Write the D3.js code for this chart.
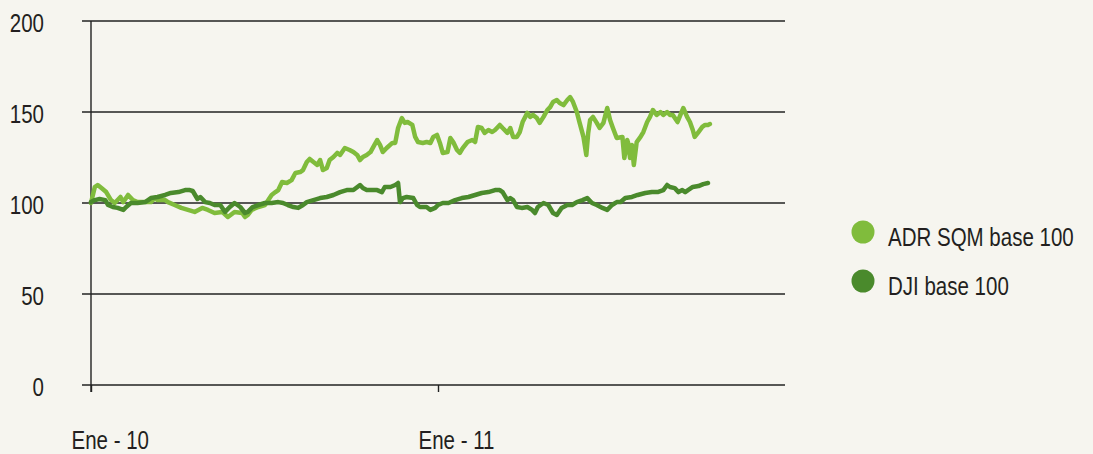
<!DOCTYPE html>
<html>
<head>
<meta charset="utf-8">
<script src="https://cdn.jsdelivr.net/npm/d3@7"></script>
<style>
  html, body { margin: 0; padding: 0; background: #f6f5ef; }
  #chart { width: 1093px; height: 454px; }
  text { font-family: 'Liberation Sans', Arial, sans-serif; fill: #231f20; }
</style>
</head>
<body>
<div id="chart"></div>
<script>
// series names for the legend
var seriesNames = ['ADR SQM base 100', 'DJI base 100'];

// y axis tick values
var yTicks = [0, 50, 100, 150, 200];

// x axis ticks (first of january of each year)
var xTickDates = ['2010-01-01', '2011-01-01'];

// ADR SQM: days counted from 2010-01-01 and index value (base 100)
var sqmDays = [0,4,7,11,16,21,25,31,34,39,
  44,49,57,63,67,70,78,81,88,95,
  102,109,117,123,130,138,144,151,159,162,
  165,169,176,183,190,194,197,201,206,211,
  215,220,223,227,230,234,238,241,244,248,
  251,255,259,262,267,272,276,280,283,286,
  290,294,297,301,304,307,311,317,320,323,
  327,330,333,338,341,344,349,353,357,360,
  364,367,370,375,378,381,385,388,391,396,
  401,404,407,411,414,418,422,425,430,433,
  438,441,444,448,451,454,459,462,465,469,
  472,476,480,483,486,490,493,497,501,504,
  507,511,514,518,521,523,525,528,532,535,
  539,543,546,549,553,559,561,564,565,567,
  569,571,574,578,581,585,588,591,595,599,
  602,606,609,612,617,620,623,627,630,633,
  635,639,643,646,649,651];
var sqmValues = [100.0,108.8,109.9,108.2,106.0,101.6,100.0,103.3,100.5,104.4,
  101.6,100.5,100.5,100.5,102.7,101.6,101.6,100.5,98.9,97.3,
  96.2,95.1,97.3,96.2,94.5,95.1,92.3,95.1,94.5,92.3,
  93.4,96.2,97.8,98.9,104.4,106.0,107.1,111.5,111.0,112.6,
  116.5,117.0,118.1,122.5,124.2,122.5,120.9,123.6,118.1,119.2,
  123.6,125.3,127.5,126.4,130.2,129.1,128.0,126.4,123.6,125.3,
  126.4,128.0,130.8,134.6,131.9,128.0,130.2,133.0,133.0,141.2,
  146.7,144.0,144.5,142.9,136.3,133.5,133.0,133.5,133.0,136.3,
  137.4,133.0,127.5,128.0,135.7,133.5,129.1,127.5,130.2,133.5,
  134.6,133.5,141.8,141.2,138.5,140.1,139.0,140.1,142.9,141.2,
  138.5,141.2,136.3,136.3,139.0,144.5,149.5,147.3,148.4,146.7,
  144.0,147.3,151.1,152.7,155.5,156.6,154.9,153.8,156.6,158.2,
  155.5,150.0,144.0,136.3,126.4,138.5,145.6,147.3,144.0,141.2,
  144.0,152.2,145.6,141.2,135.7,136.3,124.7,134.6,133.0,124.7,
  131.9,120.9,133.5,136.3,139.0,144.5,147.3,151.1,148.4,150.0,
  148.4,150.0,148.4,148.4,144.5,148.4,152.2,147.3,144.5,140.1,
  136.3,139.0,141.8,142.9,142.9,143.4];

// DJI: days counted from 2010-01-01 and index value (base 100)
var djiDays = [0,4,9,15,18,23,28,34,37,42,
  49,57,63,70,78,84,92,99,104,107,
  112,115,120,125,130,136,141,146,151,157,
  162,165,170,176,183,190,197,202,207,213,
  218,223,227,234,241,248,255,262,269,276,
  283,286,290,296,301,306,309,315,320,323,
  325,328,332,339,343,346,353,357,362,365,
  370,376,383,390,397,404,411,418,425,430,
  433,438,441,444,448,453,459,464,467,470,
  476,481,486,490,495,501,506,511,517,522,
  527,532,538,543,548,553,557,562,569,575,
  583,590,596,602,606,609,614,618,622,625,
  628,633,639,644,649];
var djiValues = [100.5,101.6,102.2,101.6,98.9,97.8,97.3,96.2,97.8,100.0,
  100.0,100.5,102.7,103.3,104.4,105.5,106.0,107.1,107.1,106.6,
  102.2,103.3,100.5,100.0,98.9,98.9,95.1,97.8,100.0,97.8,
  94.5,95.1,97.8,98.9,100.0,100.0,100.5,100.0,98.9,97.8,
  97.3,98.9,100.5,101.6,102.7,103.3,104.4,106.0,107.1,107.1,
  109.9,108.2,107.1,107.1,107.1,106.0,108.8,108.8,109.9,111.0,
  100.5,102.7,103.3,102.7,98.9,97.8,97.8,96.2,97.3,98.9,
  100.0,100.0,101.6,102.7,103.3,104.4,105.5,106.0,107.1,107.1,
  106.0,101.6,102.7,101.6,97.8,97.3,97.8,96.2,94.5,97.8,
  100.0,98.9,94.5,93.4,97.3,98.9,98.9,100.5,101.6,102.7,
  100.0,98.9,97.3,96.2,98.9,100.5,100.5,102.7,103.3,104.4,
  105.5,106.0,106.0,107.1,109.9,108.8,108.2,106.0,107.1,106.0,
  107.1,108.8,109.3,110.4,111.0];

var colors = ['#80bc3c', '#4a8a2c'];

var width = 1093;
var height = 454;
var narrow = 0.82; // condensed look: no narrow font installed, so squeeze the text

var parseDate = d3.timeParse('%Y-%m-%d');
var startDate = parseDate('2010-01-01');

// spanish month names for the tick labels
var es = d3.timeFormatLocale({
  dateTime: '%x, %X', date: '%d/%m/%Y', time: '%H:%M:%S', periods: ['AM', 'PM'],
  days: ['domingo','lunes','martes','miércoles','jueves','viernes','sábado'],
  shortDays: ['dom','lun','mar','mié','jue','vie','sáb'],
  months: ['enero','febrero','marzo','abril','mayo','junio','julio','agosto','septiembre','octubre','noviembre','diciembre'],
  shortMonths: ['Ene','Feb','Mar','Abr','May','Jun','Jul','Ago','Sep','Oct','Nov','Dic']
});

// build the series from the arrays above
function makeSeries(days, values) {
  return days.map(function(d, i) {
    return { date: d3.timeDay.offset(startDate, d), value: values[i] };
  });
}
var series = [
  { name: seriesNames[0], color: colors[0], points: makeSeries(sqmDays, sqmValues) },
  { name: seriesNames[1], color: colors[1], points: makeSeries(djiDays, djiValues) }
];

var svg = d3.select('#chart')
  .append('svg')
  .attr('width', width)
  .attr('height', height)
  .style('display', 'block')
  .style('background', '#f6f5ef');

var x = d3.scaleTime()
  .domain([startDate, parseDate('2012-01-01')])
  .range([91, 785]);

var y = d3.scaleLinear()
  .domain([0, 200])
  .range([385, 21]);

// horizontal grid lines (they stick out a bit left of the axis)
svg.append('g')
  .selectAll('line')
  .data(yTicks)
  .enter()
  .append('line')
  .attr('x1', 82)
  .attr('x2', 785)
  .attr('y1', function(d) { return y(d); })
  .attr('y2', function(d) { return y(d); })
  .attr('stroke', '#222')
  .attr('stroke-width', 1.4);

// y axis labels
var yAxis = svg.append('g')
  .attr('transform', 'translate(91,0)')
  .call(d3.axisLeft(y).tickValues(yTicks).tickSize(0).tickPadding(47));
yAxis.select('.domain').remove();
yAxis.selectAll('text')
  .attr('dy', '0.42em')
  .style('font-size', '25px');

// vertical axis line
svg.append('line')
  .attr('x1', 91).attr('x2', 91)
  .attr('y1', y(200)).attr('y2', 392)
  .attr('stroke', '#222')
  .attr('stroke-width', 1.4);

// x axis ticks and labels
var xAxis = svg.append('g')
  .attr('transform', 'translate(0,' + y(0) + ')')
  .call(d3.axisBottom(x)
    .tickValues(xTickDates.map(parseDate))
    .tickSize(7)
    .tickFormat(es.format('%b - %y')));
xAxis.select('.domain').remove();
xAxis.selectAll('line').attr('stroke', '#222').attr('stroke-width', 1.4);
xAxis.selectAll('text')
  .attr('text-anchor', 'start')
  .attr('x', -20)
  .attr('y', 64)
  .attr('dy', 0)
  .style('font-size', '25px');

// lines
var line = d3.line()
  .x(function(d) { return x(d.date); })
  .y(function(d) { return y(d.value); });

svg.append('g')
  .selectAll('path')
  .data(series)
  .enter()
  .append('path')
  .attr('d', function(d) { return line(d.points); })
  .attr('fill', 'none')
  .attr('stroke', function(d) { return d.color; })
  .attr('stroke-width', 4.5)
  .attr('stroke-linejoin', 'round')
  .attr('stroke-linecap', 'round');

// legend
var legend = svg.selectAll('.legend')
  .data(series)
  .enter()
  .append('g')
  .attr('class', 'legend')
  .attr('transform', function(d, i) { return 'translate(863,' + (232 + i * 49) + ')'; });

legend.append('circle')
  .attr('r', 11.5)
  .attr('fill', function(d) { return d.color; });

legend.append('text')
  .attr('x', 25)
  .attr('y', 14)
  .style('font-size', '25px')
  .text(function(d) { return d.name; });

// squeeze every label horizontally around its own anchor point
svg.selectAll('text').each(function() {
  var ax = +d3.select(this).attr('x') || 0;
  d3.select(this)
    .attr('transform', 'translate(' + ax + ',0) scale(' + narrow + ',1) translate(' + (-ax) + ',0)');
});
</script>
</body>
</html>
